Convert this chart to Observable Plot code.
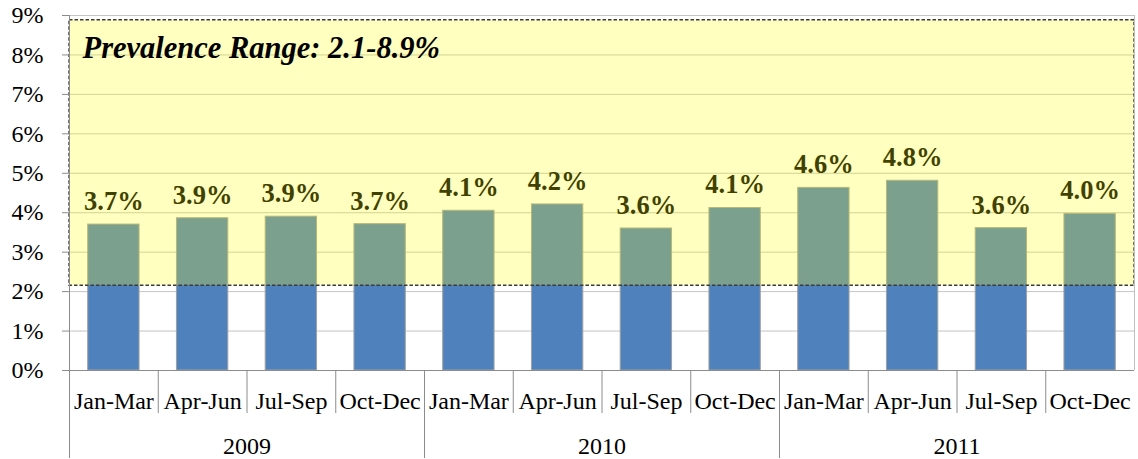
<!DOCTYPE html>
<html>
<head>
<meta charset="utf-8">
<script src="https://cdn.jsdelivr.net/npm/d3@7"></script>
<script src="https://cdn.jsdelivr.net/npm/@observablehq/plot@0.6"></script>
<style>
  html, body { margin: 0; padding: 0; background: #fff; }
  #chart svg { display: block; }
</style>
</head>
<body>
<div id="chart"></div>
<script>
const years = ["2009", "2010", "2011"];
const quarters = ["Jan-Mar", "Apr-Jun", "Jul-Sep", "Oct-Dec"];
const values = [3.70, 3.86, 3.90, 3.71, 4.05, 4.21, 3.60, 4.12, 4.63, 4.81, 3.61, 3.97];
const valueLabels = ["3.7%", "3.9%", "3.9%", "3.7%", "4.1%", "4.2%", "3.6%", "4.1%", "4.6%", "4.8%", "3.6%", "4.0%"];
const rangeLow = 2.15;
const rangeHigh = 8.88;
const rangeTitle = "Prevalence Range: 2.1-8.9%";
const yTicks = [0, 1, 2, 3, 4, 5, 6, 7, 8, 9];

const rows = values.map((v, i) => ({
  i,
  year: years[Math.floor(i / quarters.length)],
  quarter: quarters[i % quarters.length],
  value: v,
  label: valueLabels[i]
}));
const n = rows.length;
const yearStarts = years.map((y, k) => k * quarters.length);
const quarterSeps = d3.range(1, n).filter(k => k % quarters.length !== 0);
const yearRows = years.map((y, k) => ({year: y, mid: k * quarters.length + quarters.length / 2}));

const serif = "'Liberation Serif', 'Times New Roman', Times, serif";

const chart = Plot.plot({
  width: 1138,
  height: 459,
  marginLeft: 69,
  marginRight: 4,
  marginTop: 15,
  marginBottom: 89,
  style: {fontFamily: serif, fontSize: "24px", color: "#000", background: "#fff"},
  x: {type: "linear", domain: [0, n], axis: null},
  y: {domain: [0, 9], axis: null},
  marks: [
    // gridlines
    Plot.ruleY(yTicks.filter(t => t > 0), {stroke: "#C4C4C4", strokeWidth: 1}),
    // bars
    Plot.rectY(rows, {x1: "i", x2: d => d.i + 1, y1: 0, y2: "value", insetLeft: 18.7, insetRight: 18.7,
      fill: "#4F81BD", stroke: "#A0A0A0", strokeWidth: 1}),
    // value labels (under the translucent overlay)
    Plot.text(rows, {x: d => d.i + 0.5, y: "value", text: "label", dy: -23, fontSize: 26.5,
      fontWeight: "bold", fill: "#000", textAnchor: "middle"}),
    // translucent prevalence range box
    Plot.rect([{x1: 0, x2: n, y1: rangeLow, y2: rangeHigh}], {x1: "x1", x2: "x2", y1: "y1", y2: "y2",
      fill: "#FFFF00", fillOpacity: 0.25, stroke: "#3A3A3A", strokeWidth: 1.4, strokeDasharray: "3.5,2"}),
    // right border
    Plot.ruleX([n], {stroke: "#BFBFBF"}),
    // y-axis line extended down through category rows
    Plot.ruleX([0], {stroke: "#8C8C8C", insetBottom: -88}),
    // y ticks & labels
    Plot.axisY({ticks: yTicks, tickFormat: d => d + "%", tickSize: 7, tickPadding: 19,
      fontSize: 24, stroke: "#8C8C8C", fill: "#000"}),
    // x baseline
    Plot.ruleY([0], {stroke: "#8C8C8C"}),
    // category separators
    Plot.ruleX(quarterSeps, {x: d => d, y1: 0, y2: 0, insetBottom: -43, stroke: "#8C8C8C"}),
    // year separators
    Plot.ruleX(yearStarts.filter(k => k > 0), {x: d => d, y1: 0, y2: 0, insetBottom: -88, stroke: "#8C8C8C"}),
    // quarter labels
    Plot.text(rows, {x: d => d.i + 0.5, y: 0, text: "quarter", dy: 30.5, fontSize: 24, fill: "#000"}),
    // year labels
    Plot.text(yearRows, {x: "mid", y: 0, text: "year", dy: 75.5, fontSize: 24, fill: "#000"}),
    // range title
    Plot.text([rangeTitle], {frameAnchor: "top-left", lineAnchor: "top", text: d => d, dx: 13, dy: 20.5,
      fontSize: 30.5, fontWeight: "bold", fontStyle: "italic", fill: "#000", textAnchor: "start"})
  ]
});
document.getElementById("chart").appendChild(chart);
</script>
</body>
</html>
